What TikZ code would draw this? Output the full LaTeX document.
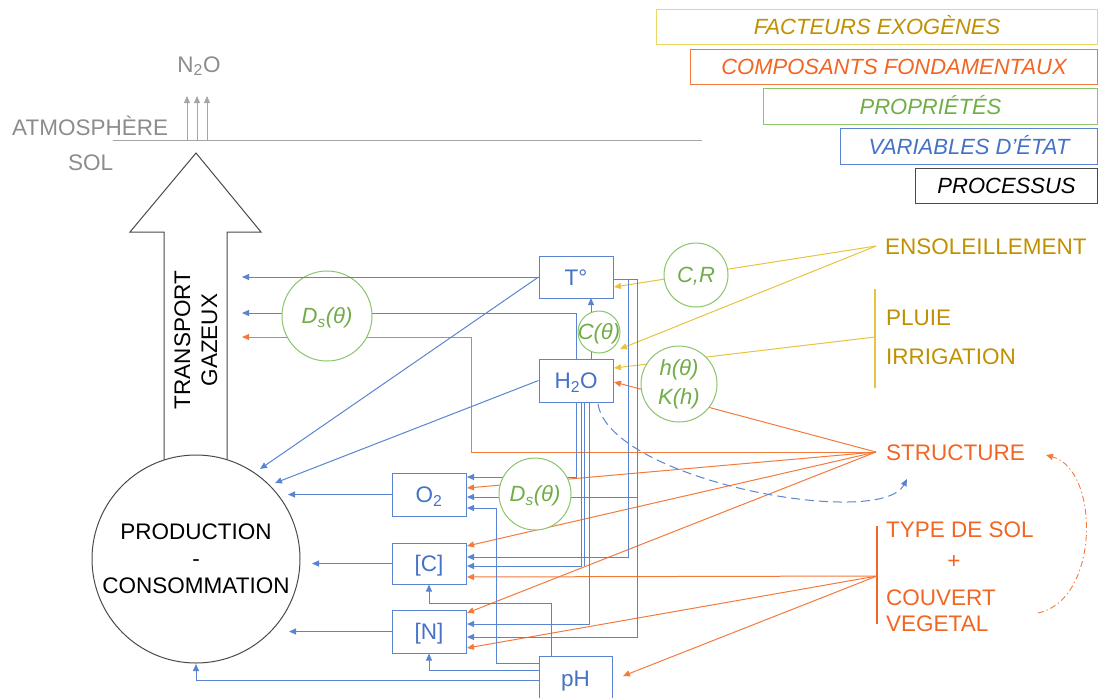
\documentclass[tikz,border=0pt]{standalone}
\usepackage{fontspec}
\setmainfont{Liberation Sans}
\usetikzlibrary{arrows.meta}
\pgfdeclarelayer{bg}
\pgfsetlayers{bg,main}
\definecolor{vblue}{HTML}{4472C4}
\definecolor{lblue}{HTML}{5A84D2}
\definecolor{vorg}{HTML}{F26522}
\definecolor{lorg}{HTML}{F47A3C}
\definecolor{vgreen}{HTML}{70AD47}
\definecolor{lgreen}{HTML}{8CC46C}
\definecolor{vgold}{HTML}{BF9000}
\definecolor{lylw}{HTML}{E6C53C}
\definecolor{ylwb}{HTML}{EDD865}
\definecolor{gtext}{HTML}{8C8C8C}
\definecolor{gline}{HTML}{A6A6A6}
\definecolor{dk}{HTML}{4A4A4A}
\begin{document}
\begin{tikzpicture}[x=1pt,y=-1pt,
  every node/.style={inner sep=0pt},
  fnt/.style={font=\fontsize{22.5}{27}\selectfont},
  ifnt/.style={font=\fontsize{22}{27}\selectfont\itshape},
  legbox/.style={ifnt, draw, fill=white, line width=1pt, anchor=north west, text height=15.8pt, text depth=0pt},
  vbox/.style={fnt, draw=lblue, text=vblue, fill=white, line width=1pt, minimum width=74, minimum height=42, text height=16.1pt, text depth=0pt},
  gcirc/.style={circle, draw=lgreen, fill=white, line width=1pt},
  gtxt/.style={ifnt, text=vgreen},
  tip/.style={-{Triangle[length=7pt,width=6pt]}},
  barr/.style={draw=lblue, line width=1pt, tip},
  bline/.style={draw=lblue, line width=1pt},
  oarr/.style={draw=lorg, line width=1pt, tip},
  yarr/.style={draw=lylw, line width=1pt, tip},
  garr/.style={draw=gline, line width=1pt, tip},
]
\useasboundingbox (0,0) rectangle (1099,697);

% legend
\node[legbox, draw=ylwb, text=vgold, minimum width=441, minimum height=35] (lfe) at (656,9) {FACTEURS EXOGÈNES};
\node[legbox, draw=lorg, text=vorg, minimum width=407, minimum height=35] (lcf) at (690,49) {COMPOSANTS FONDAMENTAUX};
\node[legbox, draw=lgreen, text=vgreen, minimum width=334, minimum height=36] (lpr) at (763,88) {PROPRIÉTÉS};
\node[legbox, draw=lblue, text=vblue, minimum width=257, minimum height=36] (lve) at (840,128) {VARIABLES D’ÉTAT};
\node[legbox, draw=dk, text=black, minimum width=182, minimum height=35] (lpc) at (915,168) {PROCESSUS};

% atmosphere
\node[fnt, text=gtext, anchor=base] (n2o) at (199,72) {N\textsubscript{2}O};
\node[fnt, text=gtext, anchor=base west] (atm) at (12,135) {ATMOSPHÈRE};
\node[fnt, text=gtext, anchor=base west] (sol) at (68,170) {SOL};
\coordinate (atL) at (113,140);
\coordinate (atR) at (702,140);
\draw[draw=gline, line width=1pt] (atL) -- (atR);
\coordinate (g1a) at (187,140); \coordinate (g1b) at (187,96);
\coordinate (g2a) at (197,140); \coordinate (g2b) at (197,96);
\coordinate (g3a) at (207,140); \coordinate (g3b) at (207,96);
\draw[garr] (g1a) -- (g1b);
\draw[garr] (g2a) -- (g2b);
\draw[garr] (g3a) -- (g3b);

% production circle and block arrow
\node[circle, draw=dk, fill=white, line width=1pt, minimum size=208, fnt, align=center] (pc) at (196,559) {PRODUCTION\\-\\CONSOMMATION};
\coordinate (ba1) at (164,460); \coordinate (ba2) at (164,232); \coordinate (ba3) at (130,232);
\coordinate (ba4) at (196,153); \coordinate (ba5) at (261,232); \coordinate (ba6) at (227,232);
\coordinate (ba7) at (227,460);
\begin{pgfonlayer}{bg}
\draw[draw=dk, line width=1pt, line join=miter] (ba1) -- (ba2) -- (ba3) -- (ba4) -- (ba5) -- (ba6) -- (ba7);
\end{pgfonlayer}
\node[fnt, rotate=90, align=center] (tg) at (196,340) {TRANSPORT\\GAZEUX};

% state variables
\node[vbox] (T) at (576,277) {T°};
\node[vbox, minimum height=43] (H) at (576,380.5) {H\textsubscript{2}O};
\node[vbox, minimum height=43] (O) at (429,494.5) {O\textsubscript{2}};
\node[vbox, minimum height=41] (C) at (429,563.5) {[C]};
\node[vbox, minimum height=43] (N) at (429,631.5) {[N]};
\node[vbox, minimum width=73, minimum height=44] (P) at (575.5,678) {pH};

% properties (circles)
\node[gcirc, minimum size=64] (CR) at (696,275) {};
\node[gtxt, text height=15.8pt, text depth=0pt] (CRt) at (CR) {C,R};
\node[gcirc, minimum size=42] (Ct) at (599,332) {};
\node[gtxt, text height=15.8pt, text depth=0pt] (Ctt) at (Ct) {C(θ)};
\node[gcirc, minimum size=76] (hK) at (679,384) {};
\node[gtxt, align=center, font=\fontsize{22}{29}\selectfont\itshape] (hKt) at (hK) {h(θ)\\K(h)};
\node[gcirc, minimum size=90] (D1) at (327,316) {};
\node[gtxt, text height=15.8pt, text depth=0pt] (D1t) at (D1) {D\textsubscript{s}(θ)};
\node[gcirc, minimum size=72] (D2) at (535,494) {};
\node[gtxt, text height=15.8pt, text depth=0pt] (D2t) at (D2) {D\textsubscript{s}(θ)};

% exogenous factors / fundamental components labels
\node[fnt, text=vgold, anchor=base west] (ens) at (885,254) {ENSOLEILLEMENT};
\node[fnt, text=vgold, anchor=base west] (plu) at (886,325) {PLUIE};
\node[fnt, text=vgold, anchor=base west] (irr) at (886,364) {IRRIGATION};
\node[fnt, text=vorg, anchor=base west] (str) at (886,460) {STRUCTURE};
\node[fnt, text=vorg, anchor=base west] (typ) at (886,537) {TYPE DE SOL};
\node[fnt, text=vorg] (plus) at (954,562) {+};
\node[fnt, text=vorg, anchor=base west] (cou) at (886,605) {COUVERT};
\node[fnt, text=vorg, anchor=base west] (veg) at (886,631) {VEGETAL};

\coordinate (ensP) at (876,246);
\coordinate (pluA) at (875,289); \coordinate (pluB) at (875,388); \coordinate (pluP) at (875,337);
\coordinate (strP) at (876,452);
\coordinate (typA) at (877,526); \coordinate (typB) at (877,624); \coordinate (typP) at (877,576);

\begin{pgfonlayer}{bg}
\draw[draw=lylw, line width=1.6pt] (pluA) -- (pluB);
\draw[draw=vorg, line width=1.6pt] (typA) -- (typB);

% yellow connectors
\coordinate (y1e) at (614,287);
\coordinate (y2e) at (620,349);
\coordinate (y3e) at (614,368);
\draw[yarr] (ensP) -- (y1e);
\draw[yarr] (ensP) -- (y2e);
\draw[yarr] (pluP) -- (y3e);

% orange connectors
\coordinate (o1e) at (614,382);
\coordinate (oc1) at (471,452); \coordinate (oc2) at (471,337); \coordinate (o2e) at (242,337);
\coordinate (o3e) at (467,488);
\coordinate (o4e) at (467,546);
\coordinate (o5e) at (467,613);
\coordinate (o6e) at (467,577);
\coordinate (o7e) at (467,648);
\coordinate (o8e) at (623,676);
\draw[oarr] (strP) -- (o1e);
\draw[oarr] (strP) -- (oc1) -- (oc2) -- (o2e);
\draw[oarr] (strP) -- (o3e);
\draw[oarr] (strP) -- (o4e);
\draw[oarr] (strP) -- (o5e);
\draw[oarr] (typP) -- (o6e);
\draw[oarr] (typP) -- (o7e);
\draw[oarr] (typP) -- (o8e);

% blue connectors
\coordinate (b2e) at (260,469);
\draw[barr] (T.west) -- (b2e);
\coordinate (tr) at (637,279);
\coordinate (tr2) at (628,279);
\coordinate (tr0) at (613,279);
\coordinate (b3O) at (467,497);
\coordinate (b3C) at (467,557);
\coordinate (b3N) at (467,637);
\draw[bline] (tr0) -- (tr);
\draw[barr] (tr) |- (b3O);
\draw[barr] (tr2) |- (b3C);
\draw[barr] (tr) |- (b3N);
\coordinate (h4) at (591,359); \coordinate (t4) at (591,298);
\draw[barr] (h4) -- (t4);
\coordinate (b5e) at (242,313);
\draw[barr] (H.north) |- (b5e);
\coordinate (b6e) at (275,483);
\draw[barr] (H.west) -- (b6e);
\coordinate (b7e) at (467,477);
\draw[barr] (H.south) |- (b7e);
\coordinate (h8) at (581,402); \coordinate (b8e) at (467,566);
\draw[barr] (h8) |- (b8e);
\coordinate (h8b) at (584,402); \coordinate (h8c) at (584,566);
\draw[bline] (h8b) -- (h8c);
\coordinate (h9) at (589,402); \coordinate (b9e) at (467,624);
\draw[barr] (h9) |- (b9e);
\coordinate (b10e) at (288,494.5);
\draw[barr] (O.west) -- (b10e);
\coordinate (b11e) at (312,563.5);
\draw[barr] (C.west) -- (b11e);
\coordinate (b12e) at (289,631.5);
\draw[barr] (N.west) -- (b12e);
\coordinate (p13) at (539,680); \coordinate (b13e) at (196,664);
\draw[barr] (p13) -| (b13e);
\coordinate (p14) at (539,663); \coordinate (q14) at (496,663); \coordinate (r14) at (496,508); \coordinate (b14e) at (467,508);
\draw[barr] (p14) -- (q14) -- (r14) -- (b14e);
\coordinate (p15) at (551,656); \coordinate (q15) at (551,603);
\draw[barr] (p15) -- (q15) -| (C.south);
\coordinate (p16) at (539,670);
\draw[barr] (p16) -| (N.south);

% curved relations
\coordinate (dA) at (598,404); \coordinate (dB) at (907,479);
\draw[barr, dash pattern=on 9pt off 5pt] (dA) .. controls (610,480) and (880,530) .. (dB);
\coordinate (ddA) at (1038,613); \coordinate (ddB) at (1046,455);
\draw[oarr, line width=0.9pt, dash pattern=on 6pt off 3pt on 1.2pt off 3pt] (ddA) .. controls (1100,600) and (1100,470) .. (ddB);
\end{pgfonlayer}

% T° -> transport (drawn over the Ds circle)
\coordinate (b1e) at (242,277);
\draw[barr] (T.west) -- (b1e);
\end{tikzpicture}
\end{document}
